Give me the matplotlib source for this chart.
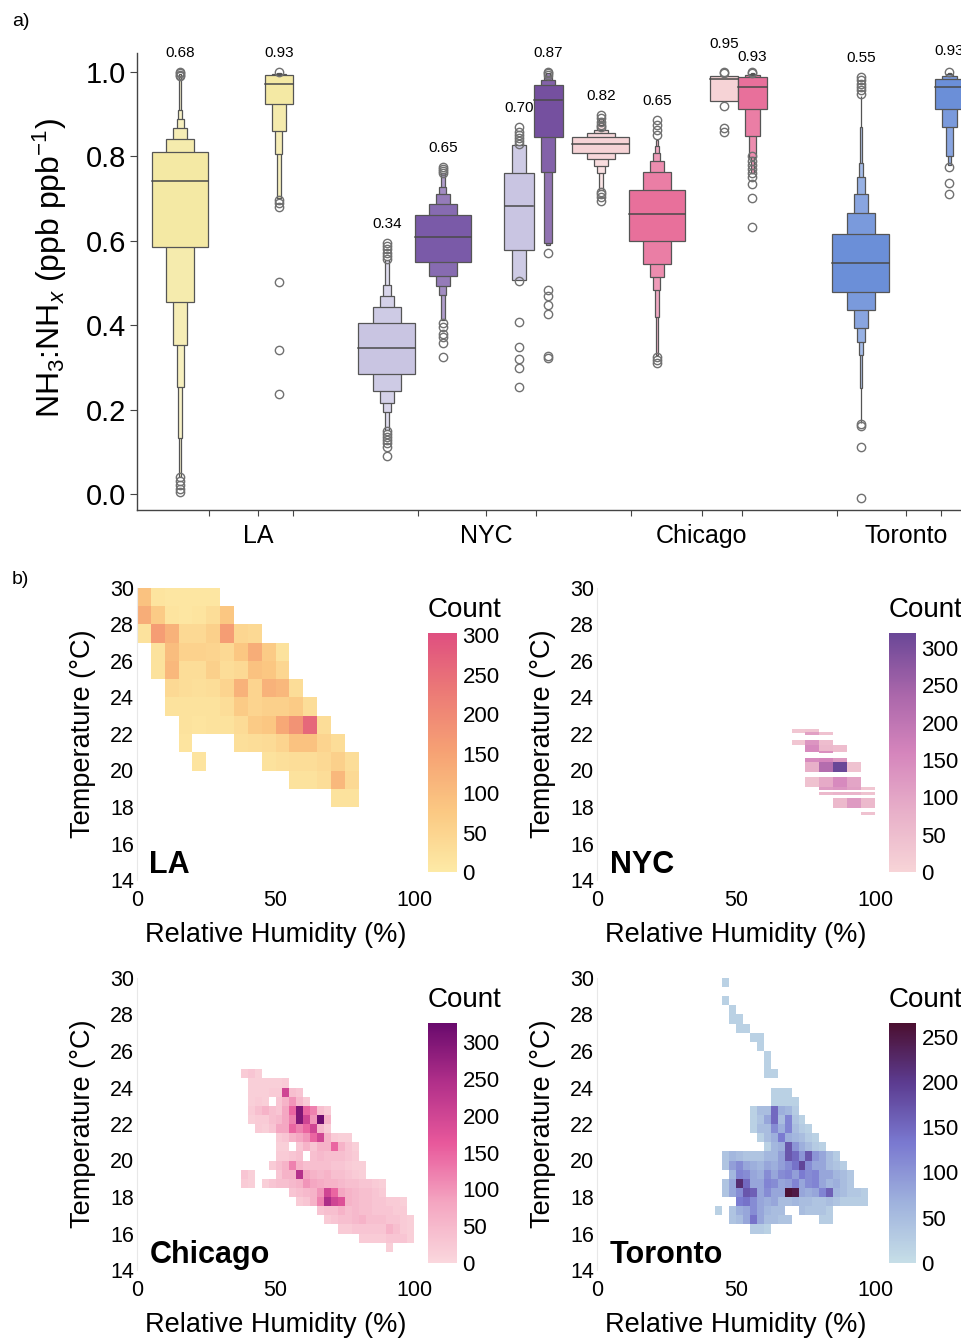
import numpy as np
import matplotlib
matplotlib.use('Agg')
import matplotlib.pyplot as plt
from matplotlib.colors import LinearSegmentedColormap, Normalize, to_rgb
from matplotlib.cm import ScalarMappable

plt.rcParams['font.family'] = ['Liberation Sans', 'DejaVu Sans']
plt.rcParams['mathtext.fontset'] = 'custom'
plt.rcParams['mathtext.rm'] = 'Liberation Sans'
plt.rcParams['mathtext.it'] = 'Liberation Sans:italic'
plt.rcParams['mathtext.bf'] = 'Liberation Sans:bold'

W, H = 962, 1342

# ---------------- panel a) data: letter-value boxes ----------------
cities = ['LA', 'NYC', 'Chicago', 'Toronto']
box_labels = [0.68, 0.93, 0.34, 0.65, 0.70, 0.87, 0.82, 0.65, 0.95, 0.93, 0.55, 0.93]
box_medians = [0.742, 0.972, 0.345, 0.608, 0.683, 0.934, 0.829, 0.664, 0.983, 0.965, 0.547, 0.965]
box_levels = [
    [(0.586, 0.811), (0.456, 0.842), (0.354, 0.868), (0.254, 0.888), (0.133, 0.910), (0.041, 0.995)],
    [(0.924, 0.993), (0.859, 0.995), (0.806, 0.996), (0.701, 0.997)],
    [(0.284, 0.404), (0.244, 0.444), (0.215, 0.468), (0.195, 0.495), (0.152, 0.555)],
    [(0.549, 0.660), (0.517, 0.687), (0.493, 0.711), (0.472, 0.728), (0.412, 0.761)],
    [(0.578, 0.760), (0.507, 0.827)],
    [(0.847, 0.969), (0.762, 0.981), (0.594, 0.990), (0.590, 0.998)],
    [(0.809, 0.845), (0.794, 0.855), (0.777, 0.863), (0.760, 0.875), (0.720, 0.891)],
    [(0.600, 0.720), (0.545, 0.762), (0.513, 0.788), (0.483, 0.809), (0.420, 0.825), (0.329, 0.839)],
    [(0.931, 0.991)],
    [(0.912, 0.987), (0.848, 0.992), (0.799, 0.995), (0.760, 0.997)],
    [(0.478, 0.616), (0.436, 0.667), (0.394, 0.710), (0.359, 0.752), (0.329, 0.784), (0.250, 0.870), (0.167, 0.942)],
    [(0.912, 0.983), (0.869, 0.990), (0.800, 0.995), (0.780, 0.997)],
]
box_outliers = [
    [1.0, 0.997, 0.993, 0.990, 0.040, 0.030, 0.022, 0.012, 0.004],
    [1.0, 0.697, 0.690, 0.679, 0.503, 0.340, 0.237],
    [0.595, 0.588, 0.580, 0.572, 0.565, 0.558, 0.150, 0.142, 0.135, 0.128, 0.120, 0.112, 0.090],
    [0.776, 0.770, 0.765, 0.760, 0.406, 0.395, 0.380, 0.372, 0.357, 0.325],
    [0.870, 0.858, 0.850, 0.843, 0.836, 0.829, 0.505, 0.407, 0.349, 0.321, 0.299, 0.253],
    [1.0, 0.997, 0.993, 0.572, 0.483, 0.470, 0.448, 0.427, 0.327, 0.322],
    [0.898, 0.890, 0.882, 0.875, 0.870, 0.716, 0.710, 0.703, 0.695],
    [0.886, 0.875, 0.862, 0.850, 0.325, 0.318, 0.310],
    [1.0, 0.997, 0.919, 0.868, 0.857],
    [1.0, 0.998, 0.800, 0.790, 0.780, 0.770, 0.760, 0.752, 0.734, 0.702, 0.632],
    [0.989, 0.980, 0.972, 0.965, 0.957, 0.949, 0.165, 0.160, 0.112, -0.010],
    [1.0, 0.776, 0.736, 0.712],
]
box_colors = ['#f4e9a4', '#f4e9a4', '#c9c5e2', '#7a5aa8', '#c9c5e2', '#75509f',
              '#f6d3d6', '#e8709b', '#f6d3d6', '#e8709b', '#6b8fd8', '#6b8fd8']

# layout of the boxes (x in hundreds of pixels)
box_pos = [1.80, 2.79, 3.87, 4.43, 5.19, 5.48, 6.01, 6.57, 7.24, 7.525, 8.61, 9.495]
box_width = [0.56, 0.28, 0.57, 0.56, 0.29, 0.29, 0.57, 0.56, 0.28, 0.29, 0.57, 0.29]
label_nudge = [0, 0, 0, 0, 0, 0, 0, 0, 0.021, -0.009, 0, 0.005]
city_ticks = [2.58, 4.86, 7.02, 9.06]
minor_ticks = [2.09, 2.93, 4.18, 5.36, 6.31, 7.42, 8.37, 9.41]

# ---------------- panel b) data: RH / T count grids ----------------
# rows: (T low, T high, RH start, counts per RH bin)
la_drh = 5
la_rows = [
    (29, 30, 0, [90, 15, 10, 10, 10, 10]),
    (28, 29, 0, [130, 70, 15, 10, 15, 30, 80]),
    (27, 28, 0, [20, 160, 120, 40, 40, 60, 160, 45, 40]),
    (26, 27, 5, [20, 100, 55, 55, 50, 40, 80, 130, 70, 20]),
    (25, 26, 5, [20, 110, 30, 30, 60, 30, 40, 90, 80, 45]),
    (24, 25, 10, [40, 30, 25, 30, 50, 120, 50, 120, 110, 30]),
    (23, 24, 10, [20, 20, 20, 20, 30, 70, 50, 60, 60, 70, 30]),
    (22, 23, 15, [20, 15, 20, 20, 35, 70, 80, 140, 180, 260, 30]),
    (21, 22, 15, [15, 0, 0, 0, 25, 30, 35, 50, 90, 90, 50, 30]),
    (20, 21, 20, [15, 0, 0, 0, 0, 20, 25, 30, 30, 40, 60, 30]),
    (19, 20, 55, [20, 20, 30, 110, 40]),
    (18, 19, 70, [20, 20]),
]
nyc_drh = 5
nyc_rows = [
    (22.05, 22.30, 70, [30, 35]),
    (21.95, 22.10, 75, [110, 40]),
    (21.40, 21.67, 70, [30, 130, 50]),
    (21.03, 21.40, 75, [150, 60, 50]),
    (20.94, 21.06, 80, [140]),
    (20.48, 20.67, 75, [150, 160, 120]),
    (19.93, 20.48, 75, [80, 220, 320, 40]),
    (19.11, 19.66, 75, [40, 90, 150, 100]),
    (18.93, 19.11, 80, [120, 130, 110, 30]),
    (18.66, 18.80, 80, [60, 70, 70, 40]),
    (17.92, 18.50, 85, [60, 120, 60]),
    (17.56, 17.74, 95, [40]),
]
chi_drh = 2.5
chi_rows = [
    (24.5, 25.0, 37.5, [20, 30, 15]),
    (24.0, 24.5, 40.0, [15, 15, 15, 15, 15, 20]),
    (23.5, 24.0, 40.0, [15, 15, 15, 20, 20, 200, 40, 30]),
    (23.0, 23.5, 40.0, [15, 20, 15, 0, 30, 60, 100, 50, 20]),
    (22.5, 23.0, 40.0, [20, 40, 60, 40, 30, 80, 150, 300, 150, 120, 40, 20]),
    (22.0, 22.5, 40.0, [15, 20, 20, 40, 50, 80, 120, 300, 200, 100, 320, 60]),
    (21.5, 22.0, 42.5, [20, 15, 30, 80, 80, 150, 120, 150, 200, 50, 20]),
    (21.0, 21.5, 47.5, [0, 20, 30, 60, 80, 100, 150, 200, 60, 20, 15, 15]),
    (20.5, 21.0, 50.0, [15, 15, 0, 30, 60, 30, 60, 60, 150, 60, 30, 15]),
    (20.0, 20.5, 50.0, [20, 20, 30, 40, 0, 40, 50, 40, 40, 40, 30, 20]),
    (19.5, 20.0, 47.5, [20, 40, 60, 120, 60, 40, 40, 40, 40, 30, 30, 20, 15, 15]),
    (19.0, 19.5, 37.5, [30, 15, 0, 0, 0, 30, 60, 60, 240, 80, 60, 50, 60, 40, 40, 30, 20, 15]),
    (18.5, 19.0, 37.5, [20, 15, 0, 15, 30, 40, 40, 50, 60, 100, 80, 70, 60, 60, 50, 40, 40, 30, 30, 20, 15]),
    (18.0, 18.5, 55.0, [30, 40, 50, 60, 100, 200, 150, 80, 60, 50, 40, 40, 30, 20]),
    (17.5, 18.0, 57.5, [20, 30, 60, 120, 250, 200, 180, 60, 50, 40, 40, 30, 30, 20, 20, 15]),
    (17.0, 17.5, 65.0, [30, 40, 40, 60, 40, 50, 40, 40, 30, 30, 30, 20, 20]),
    (16.5, 17.0, 67.5, [20, 30, 40, 40, 50, 60, 40, 40, 40, 30, 30, 20, 15]),
    (16.0, 16.5, 72.5, [20, 20, 30, 30, 30, 30, 30, 60, 40, 20, 15]),
    (15.5, 16.0, 80.0, [20, 20, 20, 20, 30, 30, 30, 15]),
    (15.0, 15.5, 90.0, [15]),
]
tor_drh = 2.5
tor_rows = [
    (29.5, 30.0, 45.0, [20]),
    (28.5, 29.0, 45.0, [20]),
    (28.0, 28.5, 47.5, [20]),
    (27.5, 28.0, 47.5, [20, 20]),
    (27.0, 27.5, 50.0, [20, 20]),
    (26.5, 27.0, 55.0, [20, 20]),
    (26.0, 26.5, 57.5, [20]),
    (25.5, 26.0, 60.0, [20]),
    (25.0, 25.5, 60.0, [20]),
    (24.5, 25.0, 60.0, [20, 20]),
    (23.5, 24.0, 62.5, [20, 20, 20]),
    (23.0, 23.5, 62.5, [20, 20, 20, 20]),
    (22.5, 23.0, 55.0, [20, 50, 50, 150, 70, 60, 30]),
    (22.0, 22.5, 55.0, [20, 40, 80, 150, 50, 120, 40, 20]),
    (21.5, 22.0, 55.0, [20, 50, 50, 110, 70, 120, 50, 30, 20]),
    (21.0, 21.5, 57.5, [20, 50, 70, 130, 70, 60, 50, 30, 20]),
    (20.5, 21.0, 60.0, [20, 60, 70, 170, 100, 70, 50, 30, 20]),
    (20.0, 20.5, 45.0, [40, 60, 50, 40, 40, 40, 60, 60, 90, 170, 150, 100, 170, 100, 80, 50, 30]),
    (19.5, 20.0, 45.0, [40, 90, 110, 80, 70, 60, 80, 70, 90, 110, 140, 190, 110, 80, 80, 50, 40, 25]),
    (19.0, 19.5, 47.5, [60, 120, 110, 80, 70, 110, 80, 110, 120, 90, 130, 110, 120, 80, 80, 60, 50, 35]),
    (18.5, 19.0, 45.0, [40, 80, 220, 150, 80, 80, 120, 110, 80, 90, 120, 80, 110, 120, 80, 60, 70, 50, 35]),
    (18.0, 18.5, 45.0, [40, 80, 110, 170, 160, 80, 110, 80, 80, 260, 250, 80, 70, 80, 120, 160, 60, 50, 35, 35, 25]),
    (17.5, 18.0, 50.0, [130, 140, 110, 80, 70, 80, 50, 50, 60, 50, 50, 40, 40, 50, 40, 25, 25, 25, 25]),
    (17.0, 17.5, 42.5, [20, 0, 40, 70, 80, 110, 80, 60, 50, 50, 0, 0, 50, 40, 40, 40, 25]),
    (16.5, 17.0, 47.5, [40, 50, 80, 140, 80, 50, 50, 40, 40, 0, 0, 0, 0, 25, 25]),
    (16.0, 16.5, 55.0, [30, 30, 20]),
]

la_cmap = LinearSegmentedColormap.from_list('la', ['#fdeaa6', '#fbc983', '#f6a274', '#ec7b76', '#df4f80'])
nyc_cmap = LinearSegmentedColormap.from_list('nyc', ['#f7d4d7', '#e8b0c9', '#d585bc', '#a966aa', '#6a4797'])
chi_cmap = LinearSegmentedColormap.from_list('chi', ['#fad7dd', '#f4a6c1', '#e8589b', '#b2308a', '#690a6d'])
tor_cmap = LinearSegmentedColormap.from_list('tor', ['#c6dee7', '#9fb2dd', '#7a79d0', '#5c3c91', '#4b0f30'])
vmaxes = [303, 320, 326, 265]


def px_axes(l, t, r, b):
    return fig.add_axes([l / W, 1 - b / H, (r - l) / W, (b - t) / H])


def lighten(c, f):
    c = np.array(to_rgb(c))
    return tuple(c + (1 - c) * f)


fig = plt.figure(figsize=(W / 100, H / 100), dpi=100)

# ---------------- panel a) ----------------
ax = px_axes(137, 53, 1000, 510)
for i in range(len(box_labels)):
    lv = box_levels[i]
    for k in reversed(range(len(lv))):
        lo, hi = lv[k]
        w = box_width[i] / 2 ** k
        ax.bar(box_pos[i], hi - lo, bottom=lo, width=w, color=lighten(box_colors[i], 0.1 * k),
               edgecolor='#555555', linewidth=0.9, zorder=2)
    w0 = box_width[i]
    ax.plot([box_pos[i] - w0 / 2, box_pos[i] + w0 / 2], [box_medians[i]] * 2,
            color='#4a4a4a', lw=1.1, zorder=3)
    out = box_outliers[i]
    ax.plot([box_pos[i]] * len(out), out, 'o', mfc='none', mec='#707070', ms=6, mew=1, zorder=4)
    ax.text(box_pos[i], max(out) + 0.045 + label_nudge[i], '%.2f' % box_labels[i],
            ha='center', va='center', fontsize=11)

ax.set_xlim(1.37, 10.0)
ax.set_ylim(-0.038, 1.045)
ax.set_yticks(np.arange(0, 1.01, 0.2))
ax.set_yticklabels(['%.1f' % v for v in np.arange(0, 1.01, 0.2)], fontsize=21)
ax.set_xticks(city_ticks)
ax.set_xticklabels(cities, fontsize=18)
ax.set_xticks(minor_ticks, minor=True)
ax.tick_params(axis='y', length=5, width=0.8, color='#444444', pad=3)
ax.tick_params(axis='x', which='both', length=4, width=0.8, color='#444444', pad=6)
for s in ['top', 'right']:
    ax.spines[s].set_visible(False)
for s in ['left', 'bottom']:
    ax.spines[s].set_color('#444444')
    ax.spines[s].set_linewidth(1.0)
fig.text(50 / W, 1 - 268 / H, r'NH$_3$:NH$_x$ (ppb ppb$^{-1}$)', rotation=90,
         ha='center', va='center', fontsize=23)
fig.text(12 / W, 1 - 22 / H, 'a)', fontsize=14, va='center')
fig.text(12 / W, 1 - 580 / H, 'b)', fontsize=14, va='center')

# ---------------- panel b) ----------------
panels = [
    (la_rows, la_drh, la_cmap, 'LA', (137, 588, 414, 880), (428, 633, 457, 872)),
    (nyc_rows, nyc_drh, nyc_cmap, 'NYC', (597, 588, 875, 880), (889, 633, 916, 872)),
    (chi_rows, chi_drh, chi_cmap, 'Chicago', (137, 978, 414, 1270), (428, 1023, 457, 1263)),
    (tor_rows, tor_drh, tor_cmap, 'Toronto', (597, 978, 875, 1270), (889, 1023, 916, 1263)),
]
for j, (rows, drh, cmap, name, box, cbox) in enumerate(panels):
    hx = px_axes(*box)
    norm = Normalize(0, vmaxes[j])
    for t_lo, t_hi, rh0, counts in rows:
        vals = np.ma.masked_equal(np.array([counts], dtype=float), 0)
        xe = rh0 + drh * np.arange(len(counts) + 1)
        hx.pcolormesh(xe, [t_lo, t_hi], vals, cmap=cmap, norm=norm,
                      edgecolor='none', linewidth=0, antialiased=False)
    hx.set_xlim(0, 100)
    hx.set_ylim(14, 30)
    hx.set_xticks([0, 50, 100])
    hx.set_yticks(range(14, 31, 2))
    hx.tick_params(axis='both', length=0, labelsize=15.5)
    hx.tick_params(axis='x', pad=7)
    hx.tick_params(axis='y', pad=2)
    for s in ['top', 'right', 'bottom']:
        hx.spines[s].set_visible(False)
    hx.spines['left'].set_color('#e8e8e8')
    hx.text(0.045, 0.05, name, transform=hx.transAxes, fontsize=22, fontweight='bold', va='center')
    l, t, r, b = box
    fig.text((l - 54) / W, 1 - ((t + b) / 2) / H, 'Temperature (°C)', rotation=90,
             ha='center', va='center', fontsize=19.5)
    fig.text(((l + r) / 2) / W, 1 - (b + 55) / H, 'Relative Humidity (%)',
             ha='center', va='center', fontsize=19.5)

    cax = px_axes(*cbox)
    cb = fig.colorbar(ScalarMappable(norm=norm, cmap=cmap), cax=cax)
    cb.outline.set_visible(False)
    cb.set_ticks(range(0, vmaxes[j] + 1, 50))
    cax.tick_params(length=0, labelsize=16, pad=4)
    fig.text(cbox[0] / W, 1 - (cbox[1] - 23) / H, 'Count', ha='left', va='center', fontsize=20)

fig.savefig('out.png', dpi=100)
